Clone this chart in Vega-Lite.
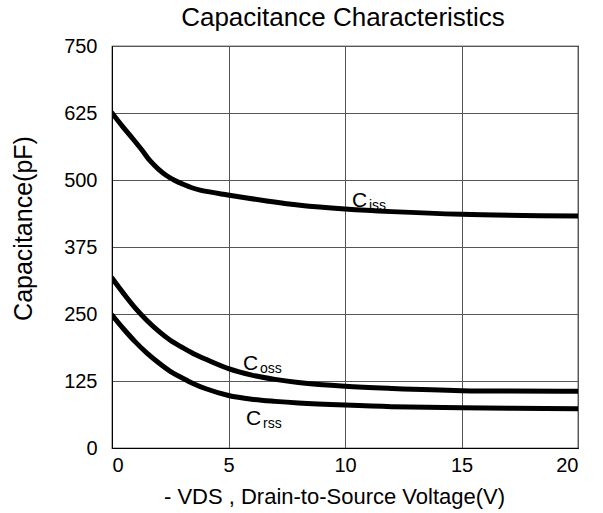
{
  "$schema": "https://vega.github.io/schema/vega-lite/v6.json",
  "width": 466,
  "height": 402,
  "autosize": {"type": "none"},
  "padding": {"left": 112, "top": 46, "right": 25, "bottom": 65},
  "background": "white",
  "title": {"text": "Capacitance Characteristics", "font": "Liberation Sans", "fontSize": 26, "fontWeight": "normal", "color": "black", "offset": 5, "anchor": "middle", "dx": -2},
  "config": {
    "view": {"stroke": "black", "strokeWidth": 1.2},
    "axis": {"labelFont": "Liberation Sans", "titleFont": "Liberation Sans", "labelColor": "black", "titleColor": "black", "gridColor": "#555", "gridOpacity": 1, "gridWidth": 1, "domain": true, "domainColor": "black", "ticks": false}
  },
  "datasets": {
    "curves": [
      {"v": 0, "c": 625, "s": "Ciss"}, {"v": 0.45, "c": 600, "s": "Ciss"}, {"v": 0.91, "c": 576, "s": "Ciss"}, {"v": 1.3, "c": 555, "s": "Ciss"}, {"v": 1.63, "c": 536, "s": "Ciss"}, {"v": 2.0, "c": 520, "s": "Ciss"}, {"v": 2.35, "c": 508, "s": "Ciss"}, {"v": 2.7, "c": 499, "s": "Ciss"}, {"v": 3.06, "c": 492, "s": "Ciss"}, {"v": 3.4, "c": 486, "s": "Ciss"}, {"v": 3.78, "c": 481, "s": "Ciss"}, {"v": 4.97, "c": 472, "s": "Ciss"}, {"v": 6.64, "c": 461, "s": "Ciss"}, {"v": 8.07, "c": 453, "s": "Ciss"}, {"v": 10, "c": 446, "s": "Ciss"}, {"v": 12, "c": 441, "s": "Ciss"}, {"v": 15, "c": 436, "s": "Ciss"}, {"v": 20, "c": 433, "s": "Ciss"},
      {"v": 0, "c": 317, "s": "Coss"}, {"v": 0.5, "c": 288, "s": "Coss"}, {"v": 1, "c": 261, "s": "Coss"}, {"v": 1.5, "c": 238, "s": "Coss"}, {"v": 2, "c": 218, "s": "Coss"}, {"v": 2.5, "c": 201, "s": "Coss"}, {"v": 3, "c": 188, "s": "Coss"}, {"v": 3.5, "c": 176, "s": "Coss"}, {"v": 4, "c": 166, "s": "Coss"}, {"v": 5, "c": 148, "s": "Coss"}, {"v": 6, "c": 136, "s": "Coss"}, {"v": 7, "c": 128, "s": "Coss"}, {"v": 8, "c": 122, "s": "Coss"}, {"v": 10, "c": 115, "s": "Coss"}, {"v": 12, "c": 111, "s": "Coss"}, {"v": 15, "c": 107, "s": "Coss"}, {"v": 20, "c": 106, "s": "Coss"},
      {"v": 0, "c": 248, "s": "Crss"}, {"v": 0.5, "c": 222, "s": "Crss"}, {"v": 1, "c": 198, "s": "Crss"}, {"v": 1.5, "c": 177, "s": "Crss"}, {"v": 2, "c": 159, "s": "Crss"}, {"v": 2.5, "c": 143, "s": "Crss"}, {"v": 3, "c": 131, "s": "Crss"}, {"v": 3.5, "c": 120, "s": "Crss"}, {"v": 4, "c": 111, "s": "Crss"}, {"v": 5, "c": 98, "s": "Crss"}, {"v": 6, "c": 91, "s": "Crss"}, {"v": 7, "c": 87, "s": "Crss"}, {"v": 8, "c": 84, "s": "Crss"}, {"v": 10, "c": 80, "s": "Crss"}, {"v": 12, "c": 77, "s": "Crss"}, {"v": 15, "c": 75, "s": "Crss"}, {"v": 20, "c": 73, "s": "Crss"}
    ],
    "labels": [
      {"v": 10.3, "c": 450, "main": "C", "sub": "iss"},
      {"v": 5.62, "c": 146, "main": "C", "sub": "oss"},
      {"v": 5.75, "c": 43, "main": "C", "sub": "rss"}
    ]
  },
  "layer": [
    {
      "data": {"name": "curves"},
      "mark": {"type": "line", "color": "black", "strokeWidth": 5, "interpolate": "catmull-rom", "strokeCap": "round", "clip": true},
      "encoding": {
        "x": {"field": "v", "type": "quantitative", "scale": {"domain": [0, 20], "nice": false},
          "axis": {"values": [0, 5, 10, 15, 20], "grid": true, "labelFontSize": 20, "labelPadding": 7, "title": "- VDS , Drain-to-Source Voltage(V)", "titleFontSize": 22, "titleFontWeight": "normal", "titleX": 222, "titleY": 48, "titleAlign": "center", "titleBaseline": "middle"}},
        "y": {"field": "c", "type": "quantitative", "scale": {"domain": [0, 750], "nice": false},
          "axis": {"values": [0, 125, 250, 375, 500, 625, 750], "grid": true, "labelFontSize": 20, "labelPadding": 15, "title": "Capacitance(pF)", "titleFontSize": 25, "titleFontWeight": "normal", "titleX": -89, "titleY": 182, "titleAlign": "center", "titleBaseline": "middle", "titleAngle": 270}},
        "detail": {"field": "s"}
      }
    },
    {
      "data": {"name": "labels"},
      "mark": {"type": "text", "font": "Liberation Sans", "fontSize": 21, "align": "left", "baseline": "alphabetic", "color": "black"},
      "encoding": {
        "x": {"field": "v", "type": "quantitative"},
        "y": {"field": "c", "type": "quantitative"},
        "text": {"field": "main"}
      }
    },
    {
      "data": {"name": "labels"},
      "mark": {"type": "text", "font": "Liberation Sans", "fontSize": 14, "align": "left", "baseline": "alphabetic", "color": "black", "dx": 17, "dy": 3},
      "encoding": {
        "x": {"field": "v", "type": "quantitative"},
        "y": {"field": "c", "type": "quantitative"},
        "text": {"field": "sub"}
      }
    }
  ]
}
